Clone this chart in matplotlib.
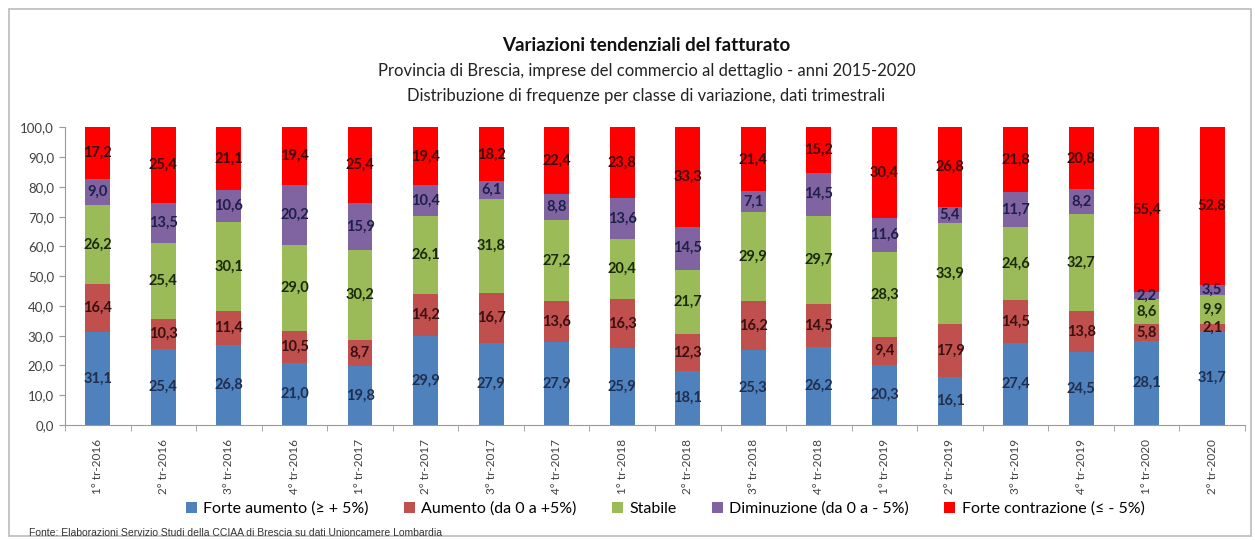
import matplotlib
matplotlib.use("Agg")
import matplotlib.pyplot as plt
import numpy as np
from matplotlib.patches import Rectangle

quarters = ["1° tr-2016", "2° tr-2016", "3° tr-2016", "4° tr-2016",
            "1° tr-2017", "2° tr-2017", "3° tr-2017", "4° tr-2017",
            "1° tr-2018", "2° tr-2018", "3° tr-2018", "4° tr-2018",
            "1° tr-2019", "2° tr-2019", "3° tr-2019", "4° tr-2019",
            "1° tr-2020", "2° tr-2020"]

forte_aumento = [31.1, 25.4, 26.8, 21.0, 19.8, 29.9, 27.9, 27.9, 25.9,
                 18.1, 25.3, 26.2, 20.3, 16.1, 27.4, 24.5, 28.1, 31.7]
aumento = [16.4, 10.3, 11.4, 10.5, 8.7, 14.2, 16.7, 13.6, 16.3,
           12.3, 16.2, 14.5, 9.4, 17.9, 14.5, 13.8, 5.8, 2.1]
stabile = [26.2, 25.4, 30.1, 29.0, 30.2, 26.1, 31.8, 27.2, 20.4,
           21.7, 29.9, 29.7, 28.3, 33.9, 24.6, 32.7, 8.6, 9.9]
diminuzione = [9.0, 13.5, 10.6, 20.2, 15.9, 10.4, 6.1, 8.8, 13.6,
               14.5, 7.1, 14.5, 11.6, 5.4, 11.7, 8.2, 2.2, 3.5]
forte_contrazione = [17.2, 25.4, 21.1, 19.4, 25.4, 19.4, 18.2, 22.4, 23.8,
                     33.3, 21.4, 15.2, 30.4, 26.8, 21.8, 20.8, 55.4, 52.8]

series_names = ["Forte aumento (≥ + 5%)", "Aumento (da 0 a +5%)", "Stabile",
                "Diminuzione (da 0 a - 5%)", "Forte contrazione (≤ - 5%)"]
series_values = [forte_aumento, aumento, stabile, diminuzione, forte_contrazione]
colors = ["#4F81BD", "#C0504D", "#9BBB59", "#8064A2", "#FF0000"]
label_colors = ["#1F2F4F", "#3A1010", "#1A2A08", "#1F1F4A", "#3A0A0A"]

FONT = ["Lato", "DejaVu Sans"]
plt.rcParams["font.family"] = FONT

fig = plt.figure(figsize=(12.55, 5.4), dpi=100)
fig.patches.append(Rectangle((0.007, 0.008), 0.99, 0.975, transform=fig.transFigure,
                             fill=False, edgecolor="#BBBBBB", linewidth=1.2))

ax = fig.add_axes([0.0518, 0.213, 0.9402, 0.551])

data = np.array(series_values, dtype=float)
totals = data.sum(axis=0)
pct = data / totals * 100.0
x = np.arange(len(quarters))
bottom = np.zeros(len(quarters))
handles = []
for i, (name, col) in enumerate(zip(series_names, colors)):
    b = ax.bar(x, pct[i], 0.38, bottom=bottom, color=col, label=name, edgecolor="none")
    handles.append(b)
    for j in range(len(quarters)):
        v = data[i, j]
        ax.text(x[j], bottom[j] + pct[i, j] / 2, f"{v:.1f}".replace(".", ","),
                ha="center", va="center", fontsize=10.5, fontweight="bold",
                color=label_colors[i])
    bottom += pct[i]

ax.set_xlim(-0.5, len(quarters) - 0.5)
ax.set_ylim(0, 100)
ax.set_yticks(np.arange(0, 101, 10))
ax.set_yticklabels([f"{v:.1f}".replace(".", ",") for v in np.arange(0, 101, 10)],
                   fontsize=9.5, color="#404040")
ax.set_xticks(x)
ax.set_xticklabels(quarters, rotation=90, fontsize=8.5, color="#404040")
ax.set_xticks(np.arange(-0.5, len(quarters), 1), minor=True)
ax.tick_params(axis="x", which="major", length=0, pad=10)
ax.tick_params(axis="x", which="minor", length=4, color="#999999")
ax.tick_params(axis="y", length=4, color="#999999", pad=4)
for s in ["top", "right"]:
    ax.spines[s].set_visible(False)
ax.spines["left"].set_color("#999999")
ax.spines["bottom"].set_color("#999999")

fig.text(0.515, 0.915, "Variazioni tendenziali del fatturato", ha="center", va="center",
         fontsize=13.5, fontweight="bold", color="#111111")
fig.text(0.515, 0.868, "Provincia di Brescia, imprese del commercio al dettaglio - anni 2015-2020",
         ha="center", va="center", fontsize=12, color="#222222")
fig.text(0.515, 0.823, "Distribuzione di frequenze per classe di variazione, dati trimestrali",
         ha="center", va="center", fontsize=12, color="#222222")

fig.legend(handles=handles, labels=series_names, loc="center", bbox_to_anchor=(0.53, 0.058),
           ncol=5, frameon=False, fontsize=11.5, handlelength=0.7, handleheight=0.7,
           handletextpad=0.4, columnspacing=2.2)

fig.text(0.023, 0.013, "Fonte: Elaborazioni Servizio Studi della CCIAA di Brescia su dati Unioncamere Lombardia",
         ha="left", va="center", fontsize=7.5, color="#333333",
         family=["Liberation Sans Narrow", "Liberation Sans", "DejaVu Sans"])

fig.savefig("out.png", dpi=100)
